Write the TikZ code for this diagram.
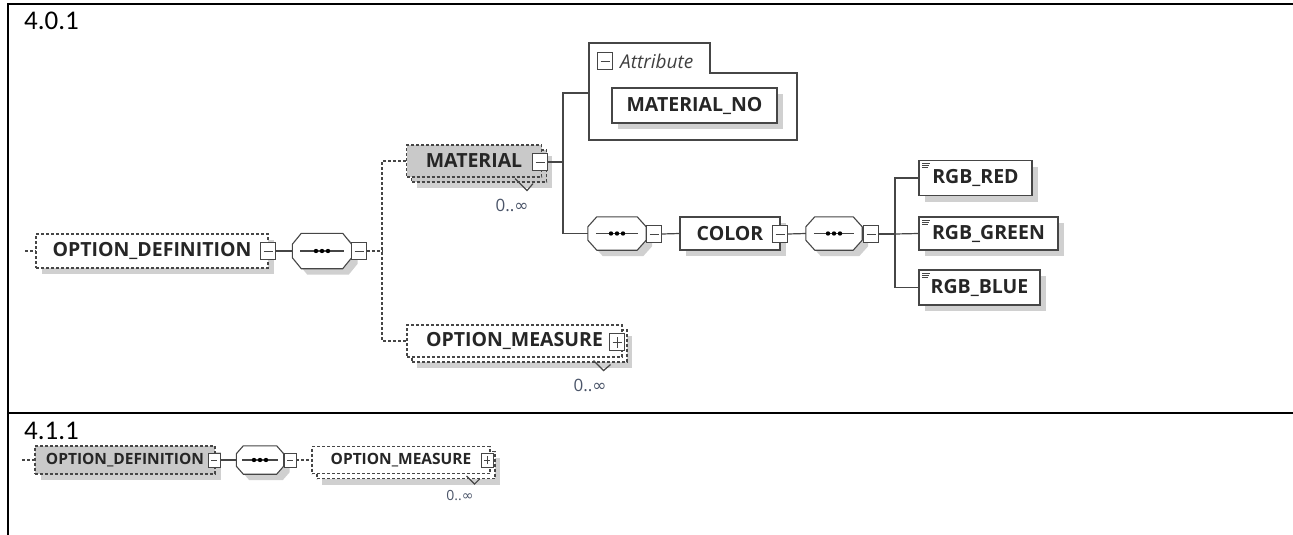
\documentclass[tikz,border=0pt]{standalone}
\usepackage{fontspec}
\setmainfont{Carlito}
\newfontfamily\xsdfont{Open Sans}
\newfontfamily\symfont{DejaVu Sans}
\usetikzlibrary{positioning,calc}

\definecolor{edgegray}{RGB}{70,70,70}
\definecolor{optfill}{RGB}{201,201,201}
\definecolor{shadegray}{RGB}{208,208,208}
\definecolor{occblue}{RGB}{75,85,105}

\tikzset{
  conn/.style={draw=edgegray, line width=1.2pt},
  optional/.style={dash pattern=on 3pt off 2pt},
  shadowed/.style={preaction={draw=none, fill=shadegray, transform canvas={shift={(6pt,-6pt)}}}},
  repeated/.style={preaction={draw=none, fill=shadegray, transform canvas={shift={(10pt,-11pt)}}},
                   preaction={draw=edgegray, fill=#1, transform canvas={shift={(5pt,-5pt)}}}},
  element/.style={draw=edgegray, line width=1.1pt, fill=#1, inner sep=0pt, minimum height=34,
                  text=black!85, font=\xsdfont\bfseries\fontsize{19.5}{21}\selectfont},
  element/.default=white,
  smallel/.style={minimum height=28, font=\xsdfont\bfseries\fontsize{15.5}{17}\selectfont},
  seqbox/.style={inner sep=0pt, minimum width=59, minimum height=35},
  seqline/.style={draw=edgegray, line width=1.1pt, fill=white},
  minus/.style={draw=edgegray, line width=.9pt, fill=white, inner sep=0pt, minimum width=15, minimum height=17,
                path picture={\draw[edgegray, line width=.9pt] ([xshift=3pt]path picture bounding box.west) -- ([xshift=-3pt]path picture bounding box.east);}},
  plus/.style={draw=edgegray, line width=.9pt, fill=white, inner sep=0pt, minimum width=15, minimum height=17,
               path picture={\draw[edgegray, line width=.9pt] ([xshift=3pt]path picture bounding box.west) -- ([xshift=-3pt]path picture bounding box.east)
                                 ([yshift=3pt]path picture bounding box.south) -- ([yshift=-3pt]path picture bounding box.north);}},
  smallicon/.style={minimum width=12, minimum height=14},
  simpletype/.style={path picture={
                 \foreach \k/\l in {3/8,5/7,7/6} \draw[edgegray, line width=.7pt] ([xshift=3pt, yshift=-\k pt]path picture bounding box.north west) -- ++(\l,0);}},
  occ/.style={inner sep=0pt, text=occblue, font=\xsdfont\fontsize{17}{19}\selectfont},
  caption/.style={anchor=west, inner sep=0pt, font=\fontsize{27}{30}\selectfont}
}

% sequence compositor: octagon round a seqbox node
\newcommand{\octagon}[3]{%
  \draw[seqline, shadowed]
    ([xshift=#2]#1.north west) -- ([xshift=-#2]#1.north east) -- ([yshift=-#3]#1.north east)
    -- ([yshift=#3]#1.south east) -- ([xshift=-#2]#1.south east) -- ([xshift=#2]#1.south west)
    -- ([yshift=#3]#1.south west) -- ([yshift=-#3]#1.north west) -- cycle;
  \draw[edgegray, line width=1.1pt] ([xshift=#2-1pt]#1.west) -- ([xshift=-#2+1pt]#1.east);
  \foreach \d in {-6,0,6} \fill[black] ([xshift=\d pt]#1.center) circle (2.2pt);
}

\begin{document}
\begin{tikzpicture}[x=1pt, y=-1pt]
  \useasboundingbox (0,0) rectangle (1293,535);
  % table rules
  \draw[line width=2.2pt] (8,535) -- (8,4) -- (1293,4);
  \draw[line width=2.2pt] (8,413) -- (1293,413);
  \node[caption] (cap1) at (24,21) {4.0.1};
  \node[caption] (cap2) at (24,431) {4.1.1};

  % ---------- 4.0.1
  \coordinate (odefIn) at (25,251);
  \node[element, optional, shadowed, minimum width=232] (odef) at (152,251) {OPTION\_DEFINITION};
  \node[minus] (odefC) at (268,251) {};
  \node[seqbox] (seq1) at (322,251) {};
  \octagon{seq1}{9pt}{11pt}
  \node[minus] (seq1C) at (359,251) {};
  \coordinate (fork1) at (382,251);

  % MATERIAL branch
  \node[element=optfill, optional, repeated=optfill, minimum width=135, minimum height=32] (mat) at (474,161) {MATERIAL\hspace{12pt}};
  \node[minus] (matC) at (540,162) {};
  \draw[conn] ($(mat.south east)+(-27,1)$) -- ++(12,12) -- ++(6,-7);
  \node[occ] (matOcc) at (512,205) {0..{\symfont ∞}};
  \coordinate (fork2) at (563,162);

  % attribute group
  \draw[edgegray, line width=1.2pt] (589,43) -- (710,43) -- (710,73) -- (797,73) -- (797,140) -- (589,140) -- cycle;
  \coordinate (attrIn) at (589,93);
  \node[minus] (attrC) at (605,61) {};
  \node[anchor=west, inner sep=0pt, text=black!75, font=\xsdfont\itshape\fontsize{19}{21}\selectfont] (attrLbl) at (620,61) {Attribute};
  \node[element, shadowed, minimum width=165, minimum height=35] (matno) at (694.5,105.5) {MATERIAL\_NO};

  % COLOR branch
  \node[seqbox, minimum width=58, minimum height=33] (seq2) at (617,233.5) {};
  \octagon{seq2}{9pt}{10pt}
  \node[minus] (seq2C) at (654,234) {};
  \node[element, shadowed, minimum width=100, minimum height=33] (color) at (730,233.5) {COLOR\hspace{14pt}};
  \node[minus] (colorC) at (780,234) {};
  \node[seqbox, minimum width=56, minimum height=33] (seq3) at (834,233.5) {};
  \octagon{seq3}{9pt}{10pt}
  \node[minus] (seq3C) at (871,234) {};
  \coordinate (fork3) at (895,234);
  \node[element, shadowed, simpletype, minimum width=113, minimum height=35] (red) at (975.5,178) {RGB\_RED};
  \node[element, shadowed, simpletype, minimum width=139, minimum height=33] (green) at (988.5,233.5) {RGB\_GREEN};
  \node[element, shadowed, simpletype, minimum width=121, minimum height=35] (blue) at (979.5,287.5) {RGB\_BLUE};

  % OPTION_MEASURE
  \node[element, optional, repeated=white, minimum width=215, minimum height=32] (meas) at (514.5,341) {OPTION\_MEASURE\hspace{16pt}};
  \node[plus] (measC) at (617,342) {};
  \draw[conn] ($(meas.south east)+(-29,3)$) -- ++(10,10) -- ++(7,-6);
  \node[occ] (measOcc) at (590,385) {0..{\symfont ∞}};

  % connectors
  \draw[conn, optional] (odefIn) -- (odef.west);
  \draw[conn] (odefC.east) -- (seq1.west);
  \draw[conn, optional] (seq1C.east) -- (fork1);
  \draw[conn, optional] (mat.west) -| (fork1) |- (meas.west);
  \draw[conn] (matC.east) -- (fork2);
  \draw[conn] (attrIn) -| (fork2) |- (seq2.west);
  \draw[conn] (seq2C.east) -- (color.west);
  \draw[conn] (colorC.east) -- (seq3.west);
  \draw[conn] (seq3C.east) -- (fork3);
  \draw[conn] (red.west) -| (fork3) |- (blue.west);
  \draw[conn] (fork3) -- (green.west);

  % ---------- 4.1.1
  \coordinate (odef2In) at (22,460);
  \node[element=optfill, smallel, optional, shadowed, minimum width=180] (odef2) at (125,460) {OPTION\_DEFINITION\hspace{8pt}};
  \node[minus, smallicon] (odef2C) at (214,460) {};
  \node[seqbox, minimum width=47, minimum height=28] (seq4) at (260,460) {};
  \octagon{seq4}{7pt}{8pt}
  \node[minus, smallicon] (seq4C) at (290,460) {};
  \node[element, smallel, optional, repeated=white, minimum width=178, minimum height=27] (meas2) at (401,460) {OPTION\_MEASURE\hspace{10pt}};
  \node[plus, smallicon] (meas2C) at (487,460) {};
  \draw[conn] ($(meas2.south east)+(-24,2)$) -- ++(8,8) -- ++(5,-5);
  \node[occ, font=\xsdfont\fontsize{14}{16}\selectfont] (meas2Occ) at (460,496) {0..{\symfont ∞}};

  \draw[conn, optional] (odef2In) -- (odef2.west);
  \draw[conn] (odef2C.east) -- (seq4.west);
  \draw[conn, optional] (seq4C.east) -- (meas2.west);
\end{tikzpicture}
\end{document}
